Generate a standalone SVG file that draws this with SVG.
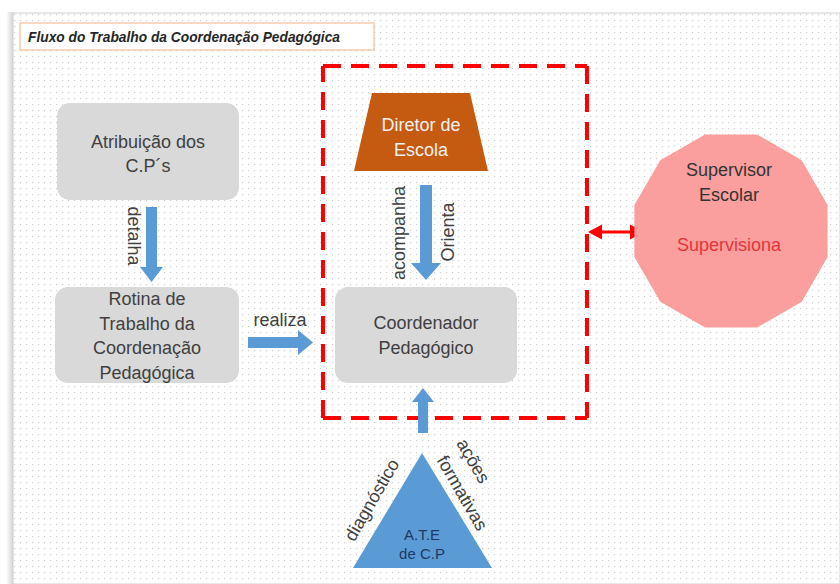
<svg xmlns="http://www.w3.org/2000/svg" width="840" height="584" viewBox="0 0 840 584">
  <defs>
    <pattern id="dots" x="0" y="0" width="6" height="6" patternUnits="userSpaceOnUse">
      <rect x="2" y="2" width="1.2" height="1.2" fill="#cfcfcf"/>
    </pattern>
    <linearGradient id="shadowL" x1="0" y1="0" x2="1" y2="0">
      <stop offset="0" stop-color="#ffffff"/>
      <stop offset="1" stop-color="#d4d4d4"/>
    </linearGradient>
    <style>
      .box { fill: #d9d9d9; }
      .lbl { font-family: "Liberation Sans", Arial, sans-serif; font-size: 18px; fill: #404040; text-anchor: middle; }
      .blue { fill: #5b9bd5; }
      .dash { fill: none; stroke: #ff0000; stroke-width: 4; stroke-dasharray: 18 10; }
      .red { fill: #ff0000; }
    </style>
  </defs>

  <!-- page -->
  <rect x="0" y="0" width="840" height="584" fill="#ffffff"/>
  <rect x="6" y="12" width="7" height="572" fill="url(#shadowL)"/>
  <rect x="13" y="13" width="827" height="571" fill="#ffffff" stroke="#d0d0d0" stroke-width="1"/>
  <rect x="14" y="14" width="826" height="570" fill="url(#dots)"/>

  <!-- title -->
  <g id="title">
    <rect x="20" y="23" width="354" height="27" fill="#ffffff" stroke="#f4b183" stroke-width="1"/>
    <text x="28" y="42" font-family="Liberation Sans, Arial, sans-serif" font-size="14" font-weight="bold" font-style="italic" fill="#262626" textLength="312" lengthAdjust="spacingAndGlyphs">Fluxo do Trabalho da Coordenação Pedagógica</text>
  </g>

  <!-- connectors -->
  <g id="connectors">
    <g id="area-dashed">
      <path class="dash" d="M323,66 H587"/>
      <path class="dash" d="M587,66 V418"/>
      <path class="dash" d="M323,418 H587"/>
      <path class="dash" d="M323,418 V66"/>
    </g>
    <g id="arrow-detalha">
      <polygon class="blue" points="146,207 157,207 157,267 163,267 151.5,282 140,267 146,267"/>
      <text class="lbl" transform="translate(128,236) rotate(90)" x="0" y="0">detalha</text>
    </g>
    <g id="arrow-orienta">
      <polygon class="blue" points="420,185 432,185 432,263 441,263 426,280 411,263 420,263"/>
      <text class="lbl" transform="translate(405,233) rotate(-90)" x="0" y="0">acompanha</text>
      <text class="lbl" transform="translate(454,232) rotate(-90)" x="0" y="0">Orienta</text>
    </g>
    <g id="arrow-realiza">
      <polygon class="blue" points="248,337 298,337 298,330 313,342.5 298,355 298,348 248,348"/>
      <text class="lbl" x="280" y="326">realiza</text>
    </g>
    <g id="arrow-ate">
      <polygon class="blue" points="418,433 418,402 412,402 423,388 434,402 428,402 428,433"/>
      <text class="lbl" transform="translate(377,503) rotate(-60)" x="0" y="0">diagnóstico</text>
      <text class="lbl" transform="translate(468,464) rotate(60)" x="0" y="0">ações</text>
      <text class="lbl" transform="translate(457,496) rotate(60)" x="0" y="0">formativas</text>
    </g>
    <g id="arrow-supervisiona">
      <polygon class="red" points="588,232 602,224.5 602,230.5 630,230.5 630,224.5 644,232 630,239.5 630,233.5 602,233.5 602,239.5"/>
    </g>
  </g>

  <!-- nodes -->
  <g id="node-atribuicao">
    <rect class="box" x="57" y="103" width="182" height="97" rx="13"/>
    <text class="lbl" x="148" y="148">Atribuição dos</text>
    <text class="lbl" x="148" y="172">C.P´s</text>
  </g>

  <g id="node-rotina">
    <rect class="box" x="55" y="287" width="184" height="96" rx="13"/>
    <text class="lbl" x="147" y="305">Rotina de</text>
    <text class="lbl" x="147" y="330">Trabalho da</text>
    <text class="lbl" x="147" y="354">Coordenação</text>
    <text class="lbl" x="147" y="379">Pedagógica</text>
  </g>

  <g id="node-diretor">
    <polygon points="372,93 470,93 488,171 354,171" fill="#c55a11"/>
    <text class="lbl" x="421" y="131" style="fill:#f2f2f2">Diretor de</text>
    <text class="lbl" x="421" y="156" style="fill:#f2f2f2">Escola</text>
  </g>

  <g id="node-coordenador">
    <rect class="box" x="335" y="287" width="182" height="96" rx="13"/>
    <text class="lbl" x="426" y="329">Coordenador</text>
    <text class="lbl" x="426" y="354">Pedagógico</text>
  </g>

  <g id="node-supervisor">
    <polygon points="827.6,256.9 801.7,301.7 756.9,327.6 705.1,327.6 660.3,301.7 634.4,256.9 634.4,205.1 660.3,160.3 705.1,134.4 756.9,134.4 801.7,160.3 827.6,205.1" fill="#fb9e9e"/>
    <text class="lbl" x="729" y="176" style="fill:#333333">Supervisor</text>
    <text class="lbl" x="729" y="201" style="fill:#333333">Escolar</text>
    <text class="lbl" x="729" y="251" style="fill:#e3353a">Supervisiona</text>
  </g>

  <g id="node-ate">
    <polygon class="blue" points="422,453 492,568 353,568"/>
    <text class="lbl" x="422" y="540" style="fill:#1f3763;font-size:15px">A.T.E</text>
    <text class="lbl" x="422" y="559" style="fill:#1f3763;font-size:15px">de C.P</text>
  </g>
</svg>
